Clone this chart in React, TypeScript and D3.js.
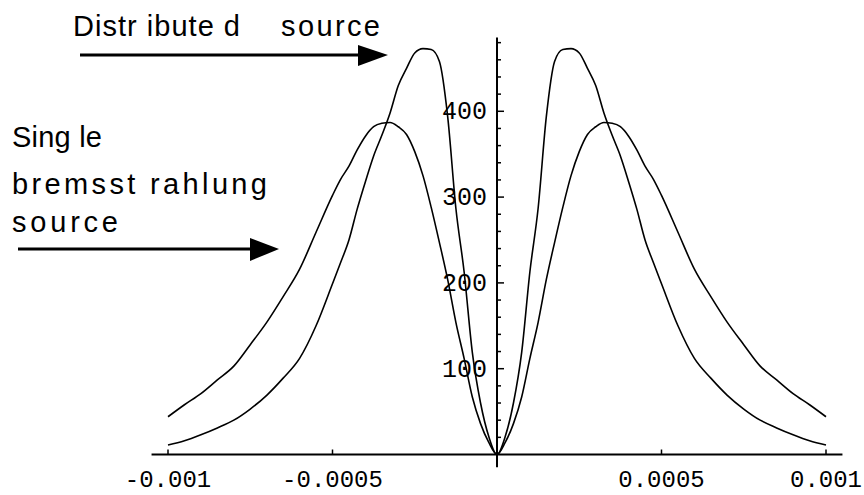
import * as d3 from 'd3';

// right half (the plot is symmetric about 0)
const xPos = [0, 0.000025, 0.00005, 0.000075, 0.0001, 0.000125, 0.00015, 0.000175, 0.0002, 0.000225,
  0.00025, 0.000275, 0.0003, 0.000325, 0.00035, 0.000375, 0.0004, 0.000425, 0.00045, 0.000475,
  0.0005, 0.00055, 0.0006, 0.00065, 0.0007, 0.00075, 0.0008, 0.00085, 0.0009, 0.00095, 0.001];
const distributedPos = [0, 21, 60, 119, 213, 287, 394, 458, 472, 473,
  468, 450, 430, 398, 372, 348, 318, 286, 250, 224,
  199, 150, 112, 89, 69, 53, 40, 31, 23, 16, 11];
const singlePos = [0, 14, 36, 67, 112, 154, 204, 247, 288, 325,
  353, 373, 382, 387, 386, 382, 371, 355, 336, 321,
  302, 259, 216, 184, 154, 128, 103, 87, 71, 58, 44];

const xTicks = [-0.001, -0.0005, 0.0005, 0.001];
const xTickLabels = ['-0.001', '-0.0005', '0.0005', '0.001'];
const yTicks = [100, 200, 300, 400];
const yMinor = d3.range(20, 481, 20).filter(v => v % 100 !== 0);

type Pt = { x: number; y: number };
const mirror = (xs: number[], ys: number[]): Pt[] => {
  const right = xs.map((x, i) => ({ x, y: ys[i] }));
  const left = right.slice(1).map(d => ({ x: -d.x, y: d.y })).reverse();
  return [...left, ...right];
};

const distributed = mirror(xPos, distributedPos);
const single = mirror(xPos, singlePos);

export default function App() {
  const x = d3.scaleLinear().domain([-0.001, 0.001]).range([168, 826]);
  const y = d3.scaleLinear().domain([0, 486]).range([454.5, 37.5]);

  const line = d3.line<Pt>()
    .x(d => x(d.x))
    .y(d => y(d.y))
    .curve(d3.curveMonotoneX);

  const mono = '"Liberation Mono", "DejaVu Sans Mono", monospace';
  const sans = '"Liberation Sans", Arial, sans-serif';

  return (
    <svg width={864} height={495} style={{ position: 'absolute', left: 0, top: 0, background: '#fff' }}>
      {/* axes */}
      <line x1={x(-0.00105)} x2={x(0.00105)} y1={y(0)} y2={y(0)} stroke="#000" strokeWidth={2} />
      <line x1={x(0)} x2={x(0)} y1={y(486)} y2={y(-15)} stroke="#000" strokeWidth={2} />

      {xTicks.map(t => (
        <line key={t} x1={x(t)} x2={x(t)} y1={y(0)} y2={y(0) - 5} stroke="#000" strokeWidth={1.5} />
      ))}
      {xTicks.map((t, i) => (
        <text key={'l' + t} x={x(t)} y={487} textAnchor="middle" fontFamily={mono} fontSize={24}>
          {xTickLabels[i]}
        </text>
      ))}

      {yMinor.map(v => (
        <line key={v} x1={x(0)} x2={x(0) + 4} y1={y(v)} y2={y(v)} stroke="#000" strokeWidth={1.5} />
      ))}
      {yTicks.map(v => (
        <line key={'m' + v} x1={x(0)} x2={x(0) + 7} y1={y(v)} y2={y(v)} stroke="#000" strokeWidth={1.5} />
      ))}
      {yTicks.map(v => (
        <text key={'t' + v} x={487} y={y(v) + 8} textAnchor="end" fontFamily={mono} fontSize={25}>
          {v}
        </text>
      ))}

      {/* curves */}
      <path d={line(single) ?? ''} fill="none" stroke="#000" strokeWidth={1.6} />
      <path d={line(distributed) ?? ''} fill="none" stroke="#000" strokeWidth={1.6} />

      {/* annotations */}
      <g fontFamily={sans} fontSize={29} fill="#000">
        <text x={73} y={36} textLength={167} lengthAdjust="spacing">Distr ibute d</text>
        <text x={281} y={36} textLength={99} lengthAdjust="spacing">source</text>
        <text x={12} y={147} textLength={90} lengthAdjust="spacing">Sing le</text>
        <text x={12} y={194} textLength={255} lengthAdjust="spacing">bremsst rahlung</text>
        <text x={12} y={232} textLength={106} lengthAdjust="spacing">source</text>
      </g>

      <line x1={80} x2={362} y1={55} y2={55} stroke="#000" strokeWidth={3} />
      <path d="M358,45 L388,55 L358,66 Z" fill="#000" />
      <line x1={18} x2={254} y1={249} y2={249} stroke="#000" strokeWidth={3} />
      <path d="M250,238 L279,249 L250,261 Z" fill="#000" />
    </svg>
  );
}
